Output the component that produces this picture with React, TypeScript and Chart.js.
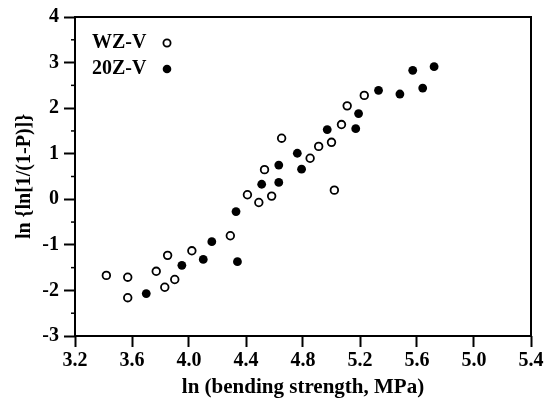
import React, { useEffect, useRef } from 'react';
import { Chart, registerables } from 'chart.js';

Chart.register(...registerables);

// Tick labels as printed on the reference x axis
const xTickLabels = ['3.2', '3.6', '4.0', '4.4', '4.8', '5.2', '5.6', '5.0', '5.4'];
const seriesNames = ['WZ-V', '20Z-V'];
const xTitle = 'ln (bending strength, MPa)';
const yTitle = 'ln {ln[1/(1-P)]}';

// WZ-V (open circles)
const wzvX = [3.42, 3.57, 3.57, 3.77, 3.83, 3.85, 3.90, 4.02, 4.29, 4.41, 4.49, 4.53, 4.58, 4.65, 4.85, 4.91, 5.00, 5.02, 5.07, 5.11, 5.23];
const wzvY = [-1.67, -1.71, -2.16, -1.58, -1.93, -1.23, -1.76, -1.13, -0.80, 0.10, -0.07, 0.65, 0.07, 1.34, 0.90, 1.16, 1.25, 0.20, 1.64, 2.05, 2.28];

// 20Z-V (filled circles)
const z20X = [3.70, 3.95, 4.10, 4.16, 4.33, 4.34, 4.51, 4.63, 4.63, 4.76, 4.79, 4.97, 5.17, 5.19, 5.33, 5.48, 5.57, 5.64, 5.72];
const z20Y = [-2.07, -1.45, -1.32, -0.93, -0.27, -1.37, 0.33, 0.75, 0.37, 1.01, 0.66, 1.53, 1.55, 1.88, 2.39, 2.31, 2.83, 2.44, 2.91];

const FONT_FAMILY = "'Liberation Serif', 'Times New Roman', serif";

const framePlugin = {
  id: 'frameAndLegend',
  afterDraw(chart: any) {
    const { ctx, chartArea, scales } = chart;
    ctx.save();
    // frame
    ctx.strokeStyle = '#000';
    ctx.lineWidth = 2;
    ctx.strokeRect(chartArea.left, chartArea.top, chartArea.right - chartArea.left, chartArea.bottom - chartArea.top);
    // minor ticks on y
    const ys = scales.y;
    ctx.lineWidth = 1.5;
    for (let v = ys.min + 0.5; v < ys.max; v += 1) {
      const py = ys.getPixelForValue(v);
      ctx.beginPath();
      ctx.moveTo(chartArea.left - 4, py);
      ctx.lineTo(chartArea.left, py);
      ctx.stroke();
    }
    // legend
    ctx.font = `bold 20px ${FONT_FAMILY}`;
    ctx.fillStyle = '#000';
    ctx.textBaseline = 'middle';
    ctx.textAlign = 'left';
    const lx = chartArea.left + 17;
    const mx = chartArea.left + 92;
    const rows = [chartArea.top + 26, chartArea.top + 52];
    ctx.fillText(seriesNames[0], lx, rows[0]);
    ctx.fillText(seriesNames[1], lx, rows[1]);
    ctx.beginPath();
    ctx.arc(mx, rows[0], 3.6, 0, Math.PI * 2);
    ctx.fillStyle = '#fff';
    ctx.fill();
    ctx.lineWidth = 1.8;
    ctx.strokeStyle = '#000';
    ctx.stroke();
    ctx.beginPath();
    ctx.arc(mx, rows[1], 4.3, 0, Math.PI * 2);
    ctx.fillStyle = '#000';
    ctx.fill();
    ctx.restore();
  },
};

export default function App() {
  const ref = useRef<HTMLCanvasElement | null>(null);

  useEffect(() => {
    if (!ref.current) return;
    const chart = new Chart(ref.current, {
      type: 'scatter',
      data: {
        datasets: [
          {
            label: seriesNames[0],
            data: wzvX.map((x, i) => ({ x, y: wzvY[i] })),
            pointRadius: 3.8,
            pointBackgroundColor: '#fff',
            pointBorderColor: '#000',
            pointBorderWidth: 1.8,
          },
          {
            label: seriesNames[1],
            data: z20X.map((x, i) => ({ x, y: z20Y[i] })),
            pointRadius: 4.4,
            pointBackgroundColor: '#000',
            pointBorderColor: '#000',
            pointBorderWidth: 0,
          },
        ],
      },
      options: {
        responsive: false,
        animation: false,
        devicePixelRatio: 1,
        layout: { autoPadding: false, padding: { left: 0, right: 18, top: 17, bottom: 0 } },
        plugins: { legend: { display: false }, tooltip: { enabled: false } },
        scales: {
          x: {
            type: 'linear',
            min: 3.2,
            max: 6.4,
            afterFit: (s: any) => { s.height = 65; },
            border: { display: false },
            grid: { drawOnChartArea: false, drawTicks: true, tickLength: 11, tickColor: '#000', tickWidth: 2 },
            ticks: {
              stepSize: 0.4,
              autoSkip: false,
              maxRotation: 0,
              padding: 2,
              color: '#000',
              font: { family: FONT_FAMILY, size: 20, weight: 'bold' },
              callback: (_v: any, i: number) => xTickLabels[i] ?? '',
            },
            title: {
              display: true,
              text: xTitle,
              color: '#000',
              font: { family: FONT_FAMILY, size: 21, weight: 'bold' },
              padding: { top: 0, bottom: 1 },
            },
          },
          y: {
            type: 'linear',
            min: -3,
            max: 4,
            afterFit: (s: any) => { s.width = 75; },
            border: { display: false },
            grid: { drawOnChartArea: false, drawTicks: true, tickLength: 11, tickColor: '#000', tickWidth: 2 },
            ticks: {
              stepSize: 1,
              padding: 5,
              color: '#000',
              font: { family: FONT_FAMILY, size: 20, weight: 'bold' },
            },
            title: {
              display: true,
              text: yTitle,
              color: '#000',
              font: { family: FONT_FAMILY, size: 20, weight: 'bold' },
              padding: { top: 13, bottom: 0 },
            },
          },
        },
      },
      plugins: [framePlugin],
    } as any);
    return () => chart.destroy();
  }, []);

  return (
    <div style={{ position: 'fixed', left: 0, top: 0, width: 549, height: 401, background: '#fff' }}>
      <canvas ref={ref} width={549} height={401} style={{ width: 549, height: 401, display: 'block' }} />
    </div>
  );
}
